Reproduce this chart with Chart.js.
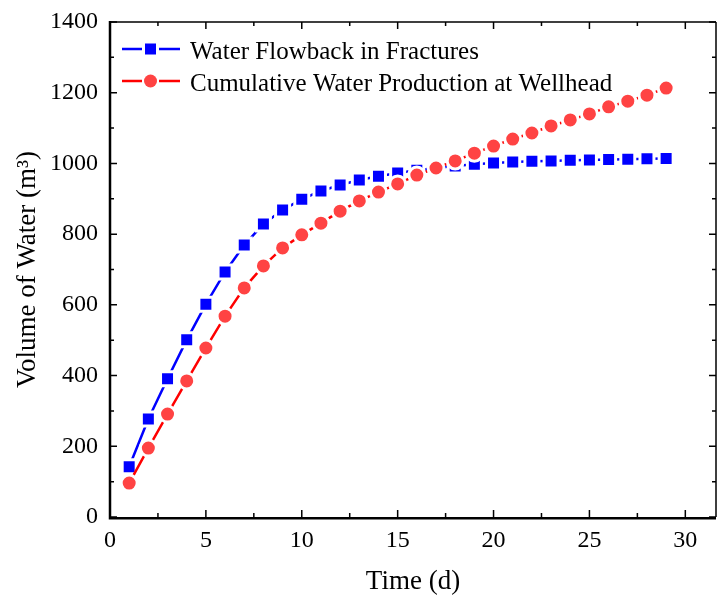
<!DOCTYPE html>
<html>
<head>
<meta charset="utf-8">
<script src="https://cdn.jsdelivr.net/npm/chart.js@4"></script>
<style>
  html, body { margin: 0; padding: 0; background: #fff; overflow: hidden; }
</style>
</head>
<body>
<canvas id="my-chart" width="717" height="599"></canvas>
<script>
/* Water flowback vs cumulative production */
const days = [1, 2, 3, 4, 5, 6, 7, 8, 9, 10, 11, 12, 13, 14, 15, 16, 17, 18, 19, 20, 21, 22, 23, 24, 25, 26, 27, 28, 29]
const flowback = [142, 277, 391, 501, 602, 693, 769, 829, 868, 899, 922, 939, 953, 964, 973, 981, 987, 993, 998, 1001, 1004, 1006, 1007, 1009, 1010, 1011, 1012, 1013, 1014]
const cumulative = [96, 195, 291, 385, 478, 568, 648, 710, 761, 798, 831, 865, 894, 919, 942, 967, 987, 1007, 1029, 1049, 1069, 1086, 1106, 1123, 1140, 1160, 1176, 1193, 1213]
const xTicks = [0, 5, 10, 15, 20, 25, 30]
const yTicks = [0, 200, 400, 600, 800, 1000, 1200, 1400]

const serif = "'Liberation Serif', 'Times New Roman', serif"

const pts = (ys) => days.map((d, i) => ({ x: d, y: ys[i] }))

// frame with inward ticks on all four sides
const framePlugin = {
  id: 'frame',
  afterDatasetsDraw(chart) {
    const { ctx, chartArea: a, scales } = chart
    ctx.save()
    ctx.strokeStyle = '#000'
    ctx.lineWidth = 1.5
    ctx.beginPath()
    ctx.moveTo(a.left, a.top); ctx.lineTo(a.right, a.top)
    ctx.moveTo(a.right, a.top); ctx.lineTo(a.right, a.bottom)
    ctx.stroke()
    ctx.lineWidth = 2.5
    ctx.beginPath()
    ctx.moveTo(a.left, a.top - 1); ctx.lineTo(a.left, a.bottom + 1.2)
    ctx.lineTo(a.right, a.bottom + 1.2)
    ctx.stroke()
    ctx.lineWidth = 1.5
    ctx.beginPath()
    for (let v = 0; v <= 30; v += 2.5) {
      const px = scales.x.getPixelForValue(v)
      const len = v % 5 === 0 ? 7 : 4
      ctx.moveTo(px, a.bottom); ctx.lineTo(px, a.bottom - len)
      ctx.moveTo(px, a.top); ctx.lineTo(px, a.top + len)
    }
    for (let v = 0; v <= 1400; v += 100) {
      const py = scales.y.getPixelForValue(v)
      const len = v % 200 === 0 ? 7 : 4
      ctx.moveTo(a.left, py); ctx.lineTo(a.left + len, py)
      ctx.moveTo(a.right, py); ctx.lineTo(a.right - len, py)
    }
    ctx.stroke()
    ctx.restore()
  }
}

// legend drawn as line + marker + text
const legendPlugin = {
  id: 'lineLegend',
  afterDraw(chart) {
    const { ctx } = chart
    const items = [chart.data.datasets[0], chart.data.datasets[1]]
    ctx.save()
    ctx.font = '25px ' + serif
    ctx.textBaseline = 'alphabetic'
    items.forEach((ds, i) => {
      const y = 49 + i * 32
      ctx.strokeStyle = ds.borderColor
      ctx.lineWidth = 2.5
      ctx.beginPath()
      ctx.moveTo(122, y); ctx.lineTo(142, y)
      ctx.moveTo(159, y); ctx.lineTo(180, y)
      ctx.stroke()
      ctx.fillStyle = ds.pointBackgroundColor
      if (ds.pointStyle === 'rect') {
        ctx.fillRect(150.5 - 5.5, y - 5.5, 11, 11)
      } else {
        ctx.beginPath()
        ctx.arc(150.5, y, 6.5, 0, Math.PI * 2)
        ctx.fill()
      }
      ctx.fillStyle = '#000'
      ctx.fillText(ds.label, 190, y + 10)
    })
    ctx.restore()
  }
}

const chart = new Chart(document.getElementById('my-chart').getContext('2d'), {
  type: 'line',
  data: {
    datasets: [
      {
        label: 'Water Flowback in Fractures',
        data: pts(flowback),
        borderColor: '#0000ff',
        borderWidth: 2.5,
        pointStyle: 'rect',
        pointRadius: 9.9,
        pointBackgroundColor: '#0000ff',
        pointBorderColor: '#ffffff',
        pointBorderWidth: 3,
        order: 2
      },
      {
        label: 'Cumulative Water Production at Wellhead',
        data: pts(cumulative),
        borderColor: '#ff0000',
        borderWidth: 2.5,
        pointStyle: 'circle',
        pointRadius: 8,
        pointBackgroundColor: '#ff4343',
        pointBorderColor: '#ffffff',
        pointBorderWidth: 3,
        order: 1
      }
    ]
  },
  options: {
    responsive: false,
    animation: false,
    layout: { autoPadding: false, padding: { top: 22, right: 1, left: 0, bottom: 0 } },
    plugins: {
      legend: { display: false },
      tooltip: { enabled: false }
    },
    scales: {
      x: {
        type: 'linear',
        min: 0,
        max: 31.6,
        grid: { display: false, drawTicks: false },
        border: { display: false },
        afterBuildTicks: (s) => { s.ticks = xTicks.map((v) => ({ value: v })) },
        afterFit: (s) => { s.height = 82; s.paddingRight = 0; s.paddingLeft = 0 },
        ticks: {
          color: '#000',
          padding: 9,
          maxRotation: 0,
          autoSkip: false,
          callback: (v) => String(v),
          font: { family: serif, size: 24 }
        },
        title: {
          display: true,
          text: 'Time (d)',
          color: '#000',
          font: { family: serif, size: 27 },
          padding: { top: 0, bottom: 1 }
        }
      },
      y: {
        min: 0,
        max: 1400,
        grid: { display: false, drawTicks: false },
        border: { display: false },
        afterBuildTicks: (s) => { s.ticks = yTicks.map((v) => ({ value: v })) },
        afterFit: (s) => { s.width = 110; s.paddingTop = 0; s.paddingBottom = 0 },
        ticks: {
          color: '#000',
          padding: 12,
          autoSkip: false,
          callback: (v) => String(v),
          font: { family: serif, size: 24 }
        },
        title: {
          display: true,
          text: 'Volume of Water (m³)',
          color: '#000',
          font: { family: serif, size: 27 },
          padding: { top: 12, bottom: 0 }
        }
      }
    }
  },
  plugins: [framePlugin, legendPlugin]
})
</script>
</body>
</html>
